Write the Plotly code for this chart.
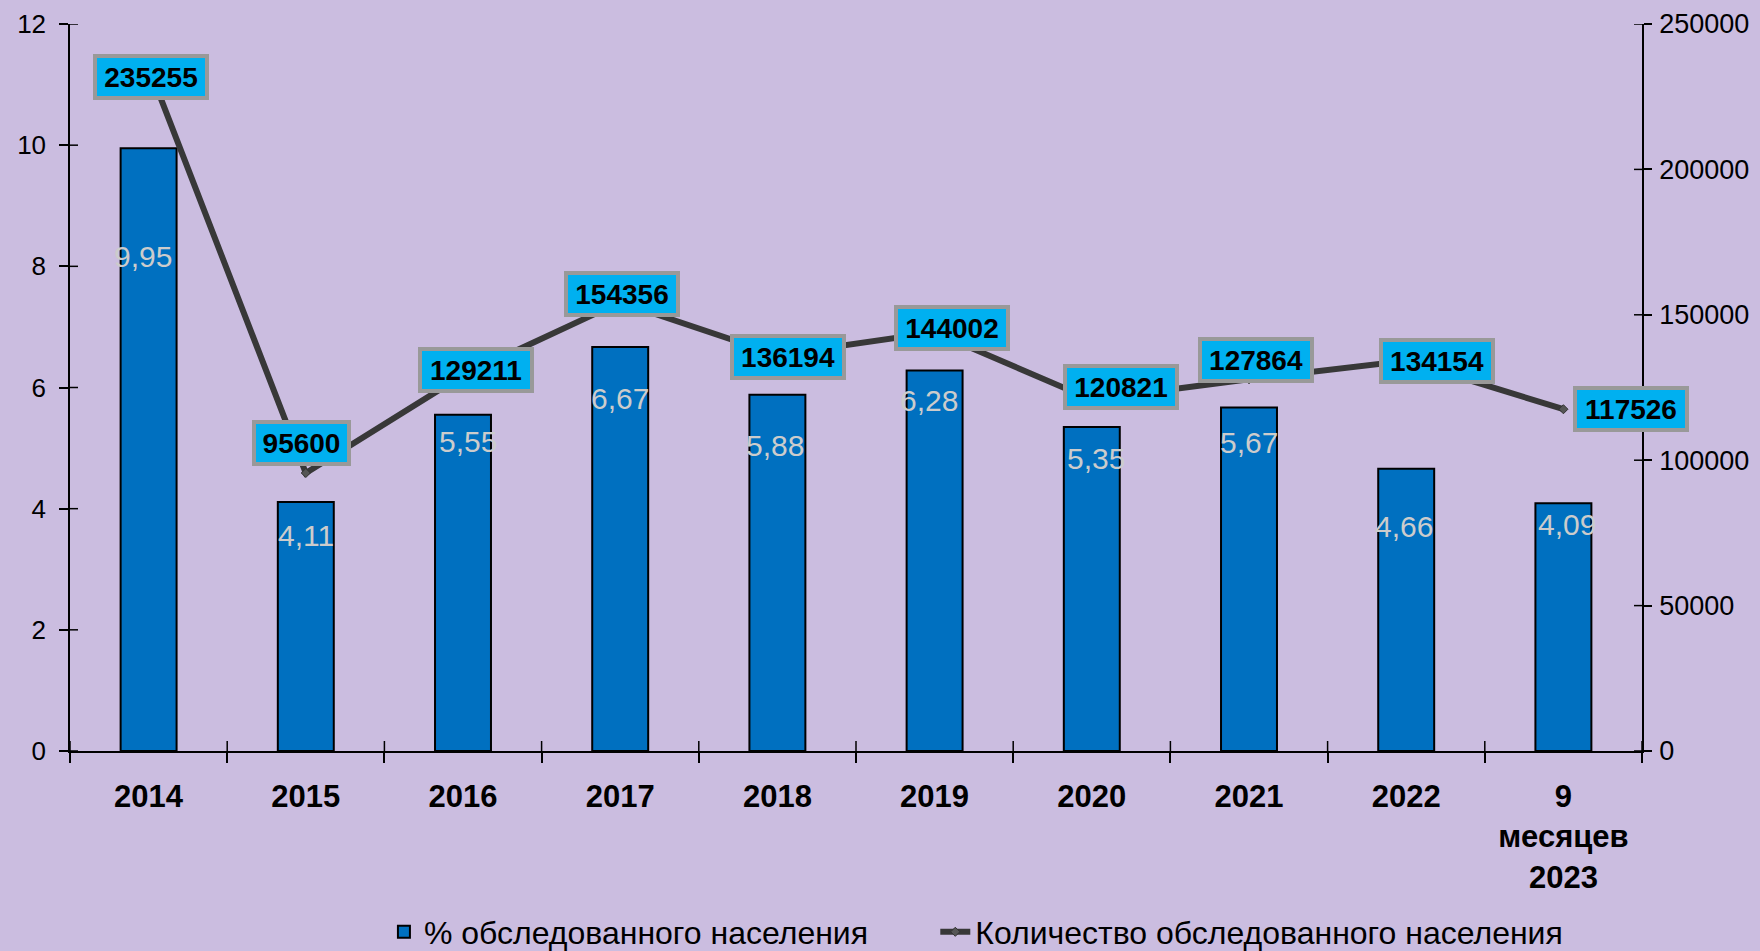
import plotly.graph_objects as go

categories = ["2014", "2015", "2016", "2017", "2018", "2019", "2020", "2021", "2022", "9<br>месяцев<br>2023"]
pct_values = [9.95, 4.11, 5.55, 6.67, 5.88, 6.28, 5.35, 5.67, 4.66, 4.09]
count_values = [235255, 95600, 129211, 154356, 136194, 144002, 120821, 127864, 134154, 117526]
left_ticks = [0, 2, 4, 6, 8, 10, 12]
right_ticks = [0, 50000, 100000, 150000, 200000, 250000]
series_names = ["% обследованного населения", "Количество обследованного населения"]

# label placement offsets (pixels)
pct_label_dy = [-108, -33, -27, -52, -51, -30, -32, -35, -58, -21]
pct_label_dx = [-6, 0, 5, 0, -2, -6, 4, 0, -2, 4]
cnt_label_dx = [2, -4, 13, 2, 11, 17, 29, 7, 31, 68]
cnt_label_dy = [-10, 30, 5, 8, -2, 4, 13, 19, 0, 0]

FONT = "Liberation Sans, Arial, sans-serif"
BG = "#cbbde0"
PAD = "\u00a0" * 7  # spacing between legend entries

fig = go.Figure()
fig.add_trace(go.Bar(
    x=categories, y=pct_values, name=series_names[0] + PAD,
    marker=dict(color="#0070c0", line=dict(color="black", width=2)),
    yaxis="y",
))
fig.add_trace(go.Scatter(
    x=categories, y=count_values, name=series_names[1],
    mode="lines+markers", yaxis="y2",
    line=dict(color="#383838", width=6),
    marker=dict(symbol="diamond", size=7, color="#555555", line=dict(color="#333333", width=1)),
))

annotations = []
for i, v in enumerate(pct_values):
    annotations.append(dict(
        x=i, y=v, xref="x", yref="y", text=f"{v:.2f}".replace(".", ","),
        showarrow=False, xshift=pct_label_dx[i], yshift=pct_label_dy[i],
        font=dict(family=FONT, size=30, color="#cccccc"),
    ))
for i, v in enumerate(count_values):
    s = str(v)
    annotations.append(dict(
        x=i, y=v, xref="x", yref="y2", text=f"<b>{s}</b>",
        showarrow=False, xshift=cnt_label_dx[i], yshift=cnt_label_dy[i],
        font=dict(family=FONT, size=28, color="black"),
        width=17 * len(s), height=32,
        bgcolor="#00b0f0", bordercolor="#999999", borderwidth=4, borderpad=3,
    ))

shapes = []
# inner halves of the crossing tick marks
for t in left_ticks:
    shapes.append(dict(type="line", xref="x domain", yref="y", xsizemode="pixel", xanchor=0,
                       x0=0, x1=8, y0=t, y1=t, line=dict(color="black", width=1.5)))
for t in right_ticks:
    shapes.append(dict(type="line", xref="x domain", yref="y2", xsizemode="pixel", xanchor=1,
                       x0=-8, x1=0, y0=t, y1=t, line=dict(color="black", width=1.5)))
n = len(categories)
for i in range(n + 1):
    shapes.append(dict(type="line", xref="x domain", yref="y domain", ysizemode="pixel", yanchor=0,
                       x0=i / n, x1=i / n, y0=0, y1=10, line=dict(color="black", width=1.5)))

fig.update_layout(
    width=1760, height=951,
    paper_bgcolor=BG, plot_bgcolor=BG,
    margin=dict(l=70, r=118, t=24, b=200, autoexpand=False),
    bargap=0.644,
    font=dict(family=FONT, color="black"),
    xaxis=dict(
        type="category", range=[-0.5, n - 0.5], showline=True, linecolor="black", linewidth=1.5,
        ticks="outside", ticklen=10, tickcolor="black", tickwidth=1.5, tickson="boundaries",
        tickfont=dict(family=FONT, size=31, weight="bold"), ticklabelstandoff=17, tickangle=0,
        showgrid=False, zeroline=False,
    ),
    yaxis=dict(
        range=[0, 12], tickvals=left_ticks, showline=True, linecolor="black", linewidth=1.5,
        ticks="outside", ticklen=9, tickcolor="black", tickwidth=1.5,
        tickfont=dict(family=FONT, size=26), ticklabelstandoff=8,
        showgrid=False, zeroline=False,
    ),
    yaxis2=dict(
        range=[0, 250000], tickvals=right_ticks, tickformat="d", overlaying="y", side="right",
        showline=True, linecolor="black", linewidth=1.5,
        ticks="outside", ticklen=8, tickcolor="black", tickwidth=1.5,
        tickfont=dict(family=FONT, size=27), ticklabelstandoff=2,
        showgrid=False, zeroline=False,
    ),
    legend=dict(
        orientation="h", x=0.1997, xanchor="left", yref="container", y=1 - 932 / 951, yanchor="middle",
        font=dict(family=FONT, size=32), bgcolor="rgba(0,0,0,0)",
    ),
    annotations=annotations,
    shapes=shapes,
)

fig.write_html("out.html", config={"displayModeBar": False},
               post_script="document.body.style.margin='0';document.body.style.background='%s';" % BG)
